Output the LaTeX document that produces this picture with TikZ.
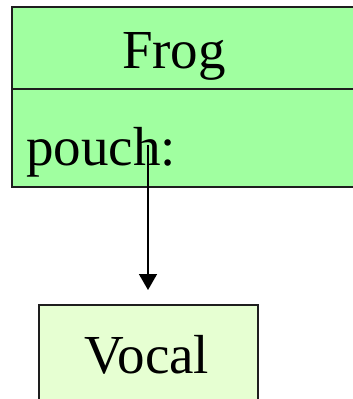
\documentclass[tikz,border=0pt]{standalone}
\usepackage{fontspec}
\setmainfont{Liberation Serif}
\usetikzlibrary{arrows.meta}
\definecolor{frogfill}{RGB}{160,255,160}
\definecolor{vocalfill}{RGB}{230,255,210}
\definecolor{edge}{RGB}{30,30,30}
\tikzset{
  compart/.style={draw=edge, line width=2pt, fill=#1, anchor=north west, inner sep=0pt},
  label/.style={inner sep=0pt, font=\fontsize{55}{64}\selectfont},
  link/.style={draw=black, line width=1.5pt, -{Triangle[length=16pt,width=18pt]}}
}
\begin{document}
\begin{tikzpicture}[x=1pt,y=-1pt]
  \useasboundingbox (0,0) rectangle (353,399);
  \clip (0,0) rectangle (353,399);
  % class Frog: name compartment and attribute compartment
  \node[compart=frogfill, minimum width=350pt, minimum height=82pt] (head) at (11,6) {};
  \node[compart=frogfill, minimum width=350pt, minimum height=98pt] (body) at (11,88) {};
  \node[label, anchor=base] (frogname) at (174,68) {Frog};
  \node[label, anchor=base west] (pouch) at (26,165) {pouch:};
  % class Vocal
  \node[compart=vocalfill, minimum width=219pt, minimum height=120pt] (vocal) at (38,304) {};
  \node[label, anchor=base] (vocalname) at (147,373) {Vocal};
  % association from the pouch attribute to Vocal
  \coordinate (src) at (148,145);
  \draw[link] (src) -- ([yshift=14pt]src |- vocal.north);
\end{tikzpicture}
\end{document}
